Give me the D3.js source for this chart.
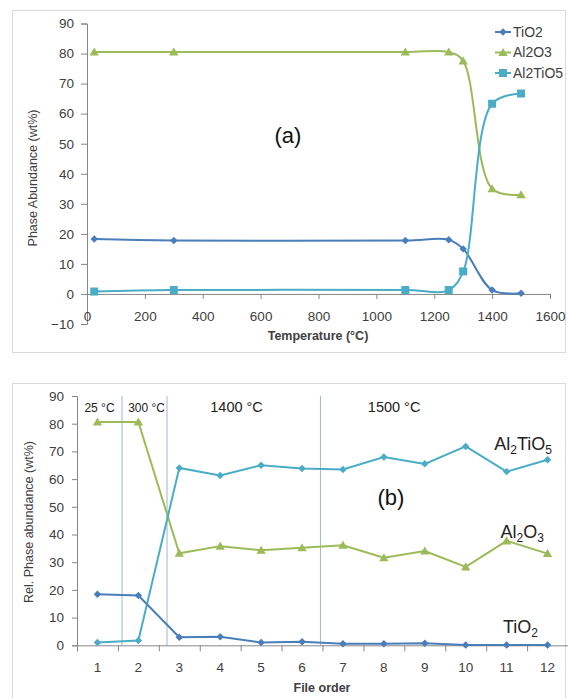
<!DOCTYPE html>
<html><head><meta charset="utf-8">
<script src="https://cdn.jsdelivr.net/npm/d3@7"></script>
<style>
html,body{margin:0;padding:0;background:#fff;}
svg{display:block;font-family:"Liberation Sans",Arial,sans-serif;}
</style></head>
<body>
<svg id="chart" width="568" height="698"></svg>
<script>
// ---- Data: panel (a) ----
const tempsA = [25, 300, 1100, 1250, 1300, 1400, 1500];
const tio2A = [18.3, 17.8, 17.8, 18.0, 15.0, 1.3, 0.2];
const al2o3A = [80.5, 80.5, 80.5, 80.5, 77.5, 35.0, 33.0];
const al2tio5A = [0.8, 1.3, 1.3, 1.3, 7.5, 63.3, 66.7];
const xTicksA = [0, 200, 400, 600, 800, 1000, 1200, 1400, 1600];
const yTicksA = [-10, 0, 10, 20, 30, 40, 50, 60, 70, 80, 90];
const seriesNamesA = ["TiO2", "Al2O3", "Al2TiO5"];

// ---- Data: panel (b) ----
const fileOrder = [1,2,3,4,5,6,7,8,9,10,11,12];
const al2tio5B = [1.0, 1.7, 64.0, 61.3, 65.0, 63.8, 63.5, 68.0, 65.5, 71.8, 62.7, 67.0];
const al2o3B = [80.6, 80.6, 33.2, 35.8, 34.3, 35.2, 36.1, 31.6, 34.0, 28.3, 37.7, 33.1];
const tio2B = [18.4, 18.0, 2.9, 3.1, 1.0, 1.3, 0.6, 0.6, 0.7, 0.1, 0.1, 0.1];
const yTicksB = [0, 10, 20, 30, 40, 50, 60, 70, 80, 90];
const dividersB = [1.6, 2.7, 6.45];
const tempLabelsB = [
  {text: "25 °C", x: 1.05, size: 12},
  {text: "300 °C", x: 2.2, size: 12},
  {text: "1400 °C", x: 4.4, size: 14.5},
  {text: "1500 °C", x: 8.25, size: 14.5}
];

const C_TIO2 = "#4a7ebb", C_AL2O3 = "#9bbb59", C_AT = "#4bacc6";
const AXIS = "#868686", TXT = "#404040";

const svg = d3.select("#chart");

function marker(g, type, x, y, color, size) {
  if (type === "diamond") {
    g.append("path").attr("d", d3.symbol(d3.symbolSquare, size)())
      .attr("transform", `translate(${x},${y}) rotate(45)`).attr("fill", color);
  } else if (type === "triangle") {
    g.append("path").attr("d", d3.symbol(d3.symbolTriangle, size)())
      .attr("transform", `translate(${x},${y + 0.8})`).attr("fill", color);
  } else {
    g.append("path").attr("d", d3.symbol(d3.symbolSquare, size)())
      .attr("transform", `translate(${x},${y})`).attr("fill", color);
  }
}

// ================= Panel (a) =================
svg.append("rect").attr("x", 12.5).attr("y", 10.5).attr("width", 553).attr("height", 342)
  .attr("fill", "none").attr("stroke", "#d9d9d9").attr("stroke-width", 1);

const xA = d3.scaleLinear().domain([0, 1600]).range([87, 550]);
const yA = d3.scaleLinear().domain([-10, 90]).range([324, 23.5]);

const gA = svg.append("g");
const yAxA = gA.append("g").attr("transform", `translate(${xA(0)},0)`)
  .call(d3.axisLeft(yA).tickValues(yTicksA).tickSize(6).tickPadding(7));
yAxA.select(".domain").attr("stroke", AXIS);
yAxA.selectAll(".tick line").attr("stroke", AXIS);
yAxA.selectAll(".tick text").attr("fill", TXT).attr("font-size", 13.5);
const xAxA = gA.append("g").attr("transform", `translate(0,${yA(0)})`)
  .call(d3.axisBottom(xA).tickValues(xTicksA).tickFormat(d3.format("d")).tickSize(5).tickPadding(0));
xAxA.select(".domain").attr("stroke", AXIS);
xAxA.selectAll(".tick line").attr("stroke", AXIS);
xAxA.selectAll(".tick text").attr("fill", TXT).attr("font-size", 13.5).attr("dy", "1.65em");

gA.append("text").attr("x", 318).attr("y", 340).attr("text-anchor", "middle")
  .attr("font-weight", "bold").attr("font-size", 12.5).attr("fill", TXT).text("Temperature (°C)");
gA.append("text").attr("transform", "translate(37,178) rotate(-90)").attr("text-anchor", "middle")
  .attr("font-size", 12.5).attr("fill", TXT).text("Phase Abundance (wt%)");
gA.append("text").attr("x", 288).attr("y", 143).attr("text-anchor", "middle")
  .attr("font-size", 22).attr("fill", "#111").text("(a)");

const seriesA = [
  {name: seriesNamesA[0], vals: tio2A, color: C_TIO2, m: "diamond", ms: 28},
  {name: seriesNamesA[1], vals: al2o3A, color: C_AL2O3, m: "triangle", ms: 38},
  {name: seriesNamesA[2], vals: al2tio5A, color: C_AT, m: "square", ms: 64}
];
const lineA = d3.line().x(d => xA(d[0])).y(d => yA(d[1])).curve(d3.curveCatmullRom.alpha(0.5));
seriesA.forEach(s => {
  const pts = tempsA.map((t, i) => [t, s.vals[i]]);
  gA.append("path").attr("d", lineA(pts)).attr("fill", "none").attr("stroke", s.color).attr("stroke-width", 2);
  pts.forEach(p => marker(gA, s.m, xA(p[0]), yA(p[1]), s.color, s.ms));
});
seriesA.forEach((s, i) => {
  const ly = 32 + i * 20.5;
  gA.append("line").attr("x1", 495).attr("x2", 511).attr("y1", ly).attr("y2", ly).attr("stroke", s.color).attr("stroke-width", 2);
  marker(gA, s.m, 503, ly, s.color, s.ms);
  gA.append("text").attr("x", 513).attr("y", ly).attr("dy", "0.35em").attr("font-size", 14).attr("fill", TXT).text(s.name);
});

// ================= Panel (b) =================
svg.append("rect").attr("x", 12.5).attr("y", 383.5).attr("width", 553).attr("height", 330)
  .attr("fill", "none").attr("stroke", "#d9d9d9").attr("stroke-width", 1);

const xB = d3.scaleLinear().domain([0.5, 12.5]).range([77, 568]);
const yB = d3.scaleLinear().domain([0, 90]).range([645.3, 396]);
const gB = svg.append("g");

dividersB.forEach(d => {
  gB.append("line").attr("x1", xB(d)).attr("x2", xB(d)).attr("y1", yB(90)).attr("y2", yB(0))
    .attr("stroke", "#9fb6cd").attr("stroke-width", 1);
});

const yAxB = gB.append("g").attr("transform", `translate(${xB(0.5)},0)`)
  .call(d3.axisLeft(yB).tickValues(yTicksB).tickSize(5).tickPadding(8));
yAxB.select(".domain").attr("stroke", AXIS);
yAxB.selectAll(".tick line").attr("stroke", AXIS);
yAxB.selectAll(".tick text").attr("fill", TXT).attr("font-size", 13.5);

const xAxB = gB.append("g").attr("transform", `translate(0,${yB(0)})`)
  .call(d3.axisBottom(xB).tickValues(d3.range(0.5, 13, 1)).tickSize(6).tickFormat(""));
xAxB.select(".domain").attr("stroke", AXIS);
xAxB.selectAll(".tick line").attr("stroke", AXIS);
gB.selectAll(".xlab").data(fileOrder).enter().append("text")
  .attr("x", d => xB(d)).attr("y", 667).attr("dy", "0.35em").attr("text-anchor", "middle")
  .attr("font-size", 13.5).attr("fill", TXT).text(d => d);

gB.append("text").attr("x", 322).attr("y", 692).attr("text-anchor", "middle")
  .attr("font-weight", "bold").attr("font-size", 12.5).attr("fill", TXT).text("File order");
gB.append("text").attr("transform", "translate(33,522) rotate(-90)").attr("text-anchor", "middle")
  .attr("font-size", 12.5).attr("fill", TXT).text("Rel. Phase abundance (wt%)");

tempLabelsB.forEach(t => {
  gB.append("text").attr("x", xB(t.x)).attr("y", 412).attr("text-anchor", "middle")
    .attr("font-size", t.size).attr("fill", "#222").text(t.text);
});

const lineB = d3.line().x(d => xB(d[0])).y(d => yB(d[1]));
const seriesB = [
  {vals: al2o3B, color: C_AL2O3, m: "triangle", ms: 38},
  {vals: al2tio5B, color: C_AT, m: "diamond", ms: 28},
  {vals: tio2B, color: C_TIO2, m: "diamond", ms: 28}
];
seriesB.forEach(s => {
  const pts = fileOrder.map((f, i) => [f, s.vals[i]]);
  gB.append("path").attr("d", lineB(pts)).attr("fill", "none").attr("stroke", s.color).attr("stroke-width", 2);
  pts.forEach(p => marker(gB, s.m, xB(p[0]), yB(p[1]), s.color, s.ms));
});

gB.append("text").attr("x", 391).attr("y", 505).attr("text-anchor", "middle")
  .attr("font-size", 22).attr("fill", "#111").text("(b)");

// chemical labels: parts are [text, isSubscript]
function chemLabel(x, y, parts) {
  const t = gB.append("text").attr("x", x).attr("y", y).attr("text-anchor", "end")
    .attr("font-size", 18).attr("fill", "#222");
  let shifted = false;
  parts.forEach(([txt, isSub]) => {
    if (isSub) {
      t.append("tspan").attr("font-size", 12).attr("dy", shifted ? 0 : 4).text(txt);
      shifted = true;
    } else {
      t.append("tspan").attr("dy", shifted ? -4 : 0).text(txt);
      shifted = false;
    }
  });
}
chemLabel(552, 450, [["Al", false], ["2", true], ["TiO", false], ["5", true]]);
chemLabel(544, 538, [["Al", false], ["2", true], ["O", false], ["3", true]]);
chemLabel(538, 633, [["TiO", false], ["2", true]]);
</script>
</body></html>
